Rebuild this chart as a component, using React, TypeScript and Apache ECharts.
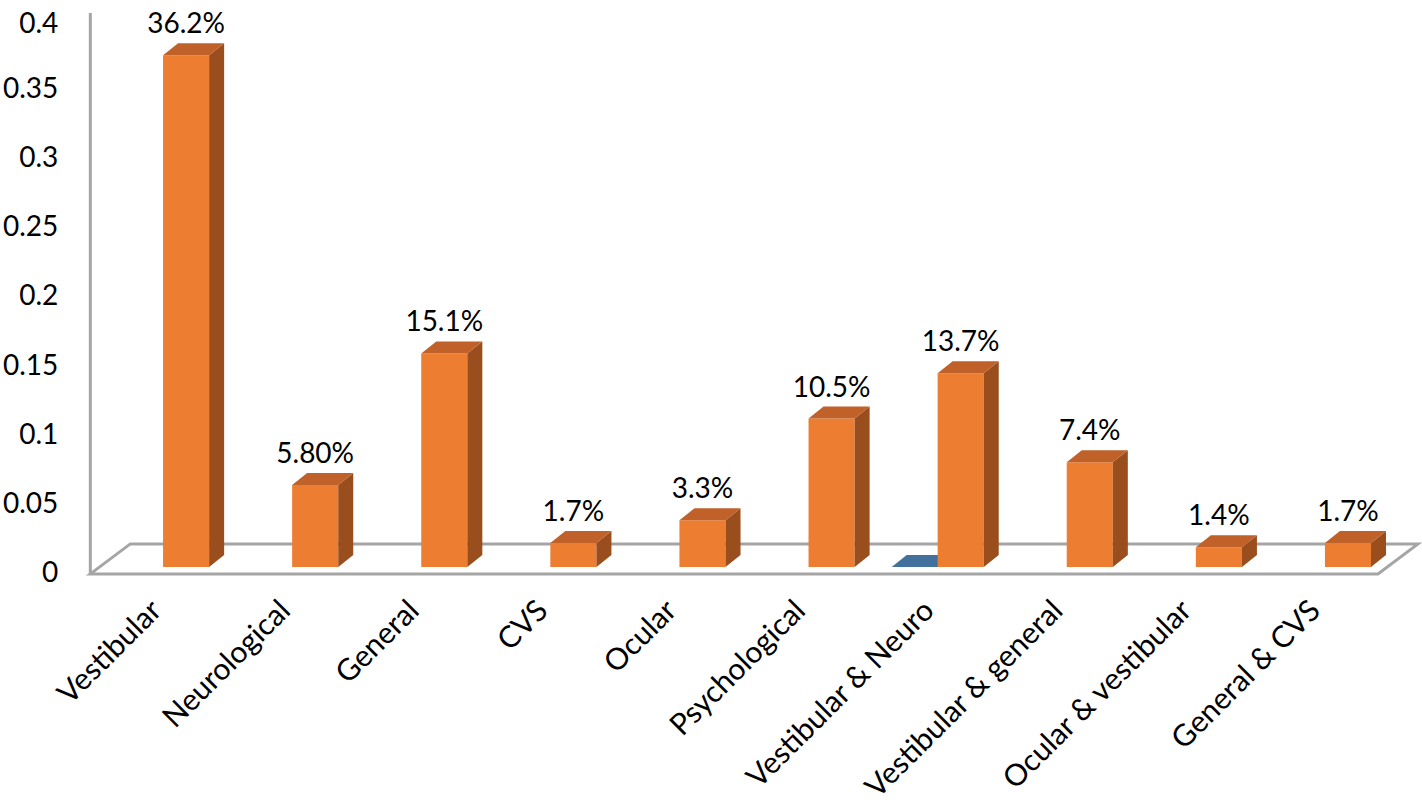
import React, { useEffect, useRef } from "react";
import * as echarts from "echarts";

const categories = [
  "Vestibular",
  "Neurological",
  "General",
  "CVS",
  "Ocular",
  "Psychological",
  "Vestibular & Neuro",
  "Vestibular & general",
  "Ocular & vestibular",
  "General & CVS",
];
const orangeValues = [0.362, 0.058, 0.151, 0.017, 0.033, 0.105, 0.137, 0.074, 0.014, 0.017];
const orangeLabels = ["36.2%", "5.80%", "15.1%", "1.7%", "3.3%", "10.5%", "13.7%", "7.4%", "1.4%", "1.7%"];
const blueValues: (number | null)[] = [null, null, null, null, null, null, 0, null, null, null];
const yTicks = { min: 0, max: 0.4, interval: 0.05 };

const FONT = "Lato";
const DX = 15;
const DY = -12;

function barShape(api: any, idx: number, val: number, offsetFrac: number, colors: string[]) {
  const base = api.coord([idx, 0]);
  const top = api.coord([idx, val]);
  const band = api.size([1, 0])[0];
  const x0 = base[0] + band * offsetFrac;
  const w = band * 0.357;
  const x1 = x0 + w;
  const yb = base[1];
  const yt = top[1];
  const children: any[] = [];
  if (yb - yt > 0.5) {
    children.push({
      type: "polygon",
      shape: { points: [[x0, yb], [x1, yb], [x1, yt], [x0, yt]] },
      style: { fill: colors[0] },
    });
    children.push({
      type: "polygon",
      shape: { points: [[x1, yb], [x1 + DX, yb + DY], [x1 + DX, yt + DY], [x1, yt]] },
      style: { fill: colors[2] },
    });
  }
  children.push({
    type: "polygon",
    shape: { points: [[x0, yt], [x1, yt], [x1 + DX, yt + DY], [x0 + DX, yt + DY]] },
    style: { fill: colors[1] },
  });
  return { children, cx: (x0 + x1) / 2, yt };
}

export default function App() {
  const ref = useRef<HTMLDivElement>(null);
  useEffect(() => {
    document.body.style.margin = "0";
    const chart = echarts.init(ref.current!, null, { renderer: "svg" });
    const option: any = {
      animation: false,
      backgroundColor: "#ffffff",
      grid: [
        { left: 87, top: 14, width: 1291, height: 559 },
        { left: 87, top: 1.4, width: 1291, height: 565.6 },
      ],
      xAxis: [
        {
          type: "category",
          gridIndex: 0,
          data: categories,
          axisLine: { show: false },
          axisTick: { show: false },
          axisLabel: {
            rotate: 45,
            interval: 0,
            margin: 33,
            fontSize: 30,
            fontFamily: FONT,
            color: "#000000",
          },
        },
        {
          type: "category",
          gridIndex: 1,
          data: categories,
          show: false,
        },
      ],
      yAxis: [
        {
          type: "value",
          gridIndex: 0,
          min: yTicks.min,
          max: yTicks.max,
          interval: yTicks.interval,
          axisLine: { show: false },
          axisTick: { show: false },
          splitLine: { show: false },
          axisLabel: {
            fontSize: 28,
            lineHeight: 22,
            fontFamily: FONT,
            color: "#000000",
            margin: 32,
            formatter: (v: number) => (v === yTicks.max ? "{top|" + v + "}" : String(v)),
            rich: {
              top: {
                fontSize: 28,
                lineHeight: 22,
                fontFamily: FONT,
                color: "#000000",
                padding: [8, 0, 0, 0],
              },
            },
          },
        },
        {
          type: "value",
          gridIndex: 1,
          min: yTicks.min,
          max: yTicks.max,
          show: false,
        },
      ],
      series: [
        {
          type: "custom",
          xAxisIndex: 0,
          yAxisIndex: 0,
          z: 1,
          data: [[0, 0]],
          renderItem: (params: any, api: any) => {
            const cs = params.coordSys;
            const x = cs.x;
            const yb = cs.y + cs.height + 3;
            const w = cs.width;
            const stroke = { stroke: "#A5A5A5", lineWidth: 3, fill: null };
            return {
              type: "group",
              children: [
                {
                  type: "polygon",
                  shape: {
                    points: [
                      [x, yb],
                      [x + w, yb],
                      [x + w + 40, yb - 30],
                      [x + 40, yb - 30],
                    ],
                  },
                  style: stroke,
                },
                {
                  type: "line",
                  shape: { x1: x, y1: cs.y - 5, x2: x, y2: yb },
                  style: { stroke: "#A5A5A5", lineWidth: 3 },
                },
              ],
            };
          },
        },
        {
          type: "custom",
          name: "Series 1",
          xAxisIndex: 1,
          yAxisIndex: 1,
          z: 2,
          data: blueValues.map((v, i) => [i, v]),
          renderItem: (params: any, api: any) => {
            const v = api.value(1);
            if (v === null || v === undefined || isNaN(v)) return null;
            const s = barShape(api, api.value(0), v, -0.267, ["#4472C4", "#41719C", "#2F5597"]);
            return { type: "group", children: s.children };
          },
        },
        {
          type: "custom",
          name: "Series 2",
          xAxisIndex: 1,
          yAxisIndex: 1,
          z: 3,
          data: orangeValues.map((v, i) => [i, v]),
          renderItem: (params: any, api: any) => {
            const idx = api.value(0);
            const s = barShape(api, idx, api.value(1), 0.089, ["#ED7D31", "#BF6128", "#9A4E1E"]);
            s.children.push({
              type: "text",
              style: {
                text: orangeLabels[idx],
                x: s.cx,
                y: s.yt - 33,
                align: "center",
                verticalAlign: "middle",
                fontSize: 28,
                fontFamily: FONT,
                fill: "#000000",
              },
            });
            return { type: "group", children: s.children };
          },
        },
      ],
    };
    chart.setOption(option);
    return () => chart.dispose();
  }, []);
  return (
    <div
      ref={ref}
      style={{ position: "absolute", left: 0, top: 0, width: 1422, height: 804 }}
    />
  );
}
